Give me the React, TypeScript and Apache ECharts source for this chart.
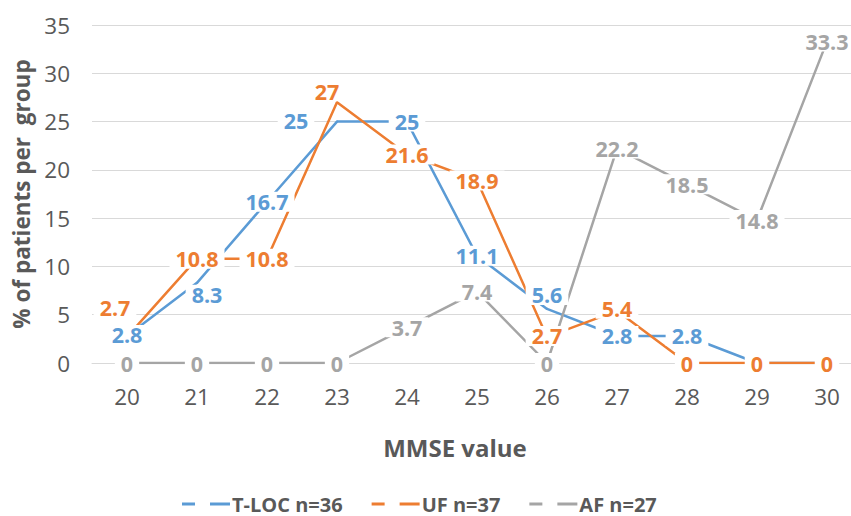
import React, { useEffect, useRef } from "react";
import * as echarts from "echarts";

const categories = ["20", "21", "22", "23", "24", "25", "26", "27", "28", "29", "30"];
const tlocValues = [2.8, 8.3, 16.7, 25, 25, 11.1, 5.6, 2.8, 2.8, 0, 0];
const ufValues = [2.7, 10.8, 10.8, 27, 21.6, 18.9, 2.7, 5.4, 0, 0, 0];
const afValues = [0, 0, 0, 0, 3.7, 7.4, 0, 22.2, 18.5, 14.8, 33.3];
const seriesNames = ["T-LOC n=36", "UF n=37", "AF n=27"];
const yTicks = [0, 5, 10, 15, 20, 25, 30, 35];

// label nudges (layout only), keyed by series index then category index
const labelNudges: Record<number, Record<number, [number, number]>> = {
  0: { 0: [0, -1], 1: [10, 12], 3: [-41, -1], 6: [0, -14] },
  1: { 0: [-12, -29], 3: [-10, -11], 6: [0, -1], 7: [0, -2] },
  2: {},
};

const colors = ["#5B9BD5", "#ED7D31", "#A5A5A5"];
const FONT = "'Open Sans', 'Noto Sans', sans-serif";

export default function App() {
  const ref = useRef<HTMLDivElement>(null);
  useEffect(() => {
    if (!ref.current) return;
    document.body.style.overflow = "hidden";
    const chart = echarts.init(ref.current, undefined, { renderer: "svg" });
    const all = [tlocValues, ufValues, afValues];
    const series = all.map((vals, si) => ({
      name: seriesNames[si],
      type: "line",
      data: vals.map((v, i) => {
        const n = labelNudges[si][i];
        return n ? { value: v, label: { offset: n } } : { value: v };
      }),
      symbol: "circle",
      symbolSize: 2,
      showSymbol: true,
      color: colors[si],
      itemStyle: { color: colors[si] },
      lineStyle: { color: colors[si], width: 2.5 },
      label: {
        show: true,
        position: "inside",
        color: colors[si],
        fontFamily: FONT,
        fontWeight: "bold",
        fontSize: 21.5,
        lineHeight: 18,
        backgroundColor: "#ffffff",
        padding: [1, 6],
      },
      emphasis: { disabled: true },
    }));
    chart.setOption({
      animation: false,
      backgroundColor: "#ffffff",
      textStyle: { fontFamily: FONT },
      grid: { left: 92, top: 25, width: 770, height: 338, containLabel: false },
      legend: {
        data: seriesNames,
        left: 177,
        top: 487,
        itemWidth: 48,
        itemHeight: 3,
        itemGap: 29,
        icon: "path://M0,0H13V3H0Z M28,0H48V3H28Z",
        textStyle: { fontFamily: FONT, fontWeight: "bold", fontSize: 20, lineHeight: 24, color: "#595959", padding: [0, 0, 0, -3] },
      },
      xAxis: {
        type: "category",
        data: categories,
        boundaryGap: true,
        name: "MMSE value",
        nameLocation: "middle",
        nameGap: 72,
        nameTextStyle: { fontFamily: FONT, fontWeight: "bold", fontSize: 24, color: "#595959", padding: [0, 44, 0, 0] },
        axisLine: { show: true, lineStyle: { color: "#d9d9d9", width: 1 } },
        axisTick: { show: false },
        axisLabel: { fontFamily: FONT, fontSize: 22.5, color: "#595959", margin: 22 },
        splitLine: { show: false },
      },
      yAxis: {
        type: "value",
        min: yTicks[0],
        max: yTicks[yTicks.length - 1],
        interval: 5,
        name: "% of patients per  group",
        nameLocation: "middle",
        nameGap: 43,
        nameTextStyle: { fontFamily: FONT, fontWeight: "bold", fontSize: 22.5, color: "#595959" },
        axisLine: { show: false },
        axisTick: { show: false },
        axisLabel: { fontFamily: FONT, fontSize: 22.5, color: "#595959", margin: 22 },
        splitLine: { lineStyle: { color: "#d9d9d9", width: 1 } },
      },
      series,
    });
    return () => chart.dispose();
  }, []);
  return (
    <div
      ref={ref}
      style={{ position: "fixed", left: 0, top: 0, width: 870, height: 516, background: "#fff" }}
    />
  );
}
